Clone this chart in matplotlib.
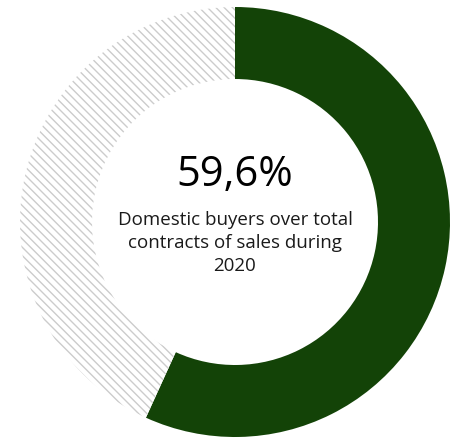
import matplotlib
matplotlib.use("Agg")
import matplotlib.pyplot as plt

labels = ["Domestic buyers", "Other"]
values = [56.8, 43.2]
big_label = "59,6%"
sub_label = "Domestic buyers over total\ncontracts of sales during\n2020"

plt.rcParams['hatch.color'] = '#cccccc'
plt.rcParams['hatch.linewidth'] = 1.0

fig = plt.figure(figsize=(4.56, 4.39), dpi=100)
ax = fig.add_axes([0, 0, 1, 1])

wedges, _ = ax.pie(values, center=(235, 439 - 223), radius=215, startangle=90,
                   counterclock=False, colors=['#134307', 'white'],
                   wedgeprops=dict(width=72, linewidth=0))
wedges[1].set_hatch('\\\\\\\\')
wedges[1].set_edgecolor('#cccccc')
wedges[1].set_linewidth(0)
ax.set_xlim(0, 456)
ax.set_ylim(0, 439)
ax.set_aspect('equal')
ax.axis('off')

ax.text(235, 439 - 175, big_label, ha='center', va='center', fontsize=30,
        family='Open Sans', color='black')
ax.text(235, 439 - 243, sub_label, ha='center', va='center', fontsize=13.5,
        family='Open Sans', color='#1a1a1a', linespacing=1.35)

fig.savefig('out.png', dpi=100)
